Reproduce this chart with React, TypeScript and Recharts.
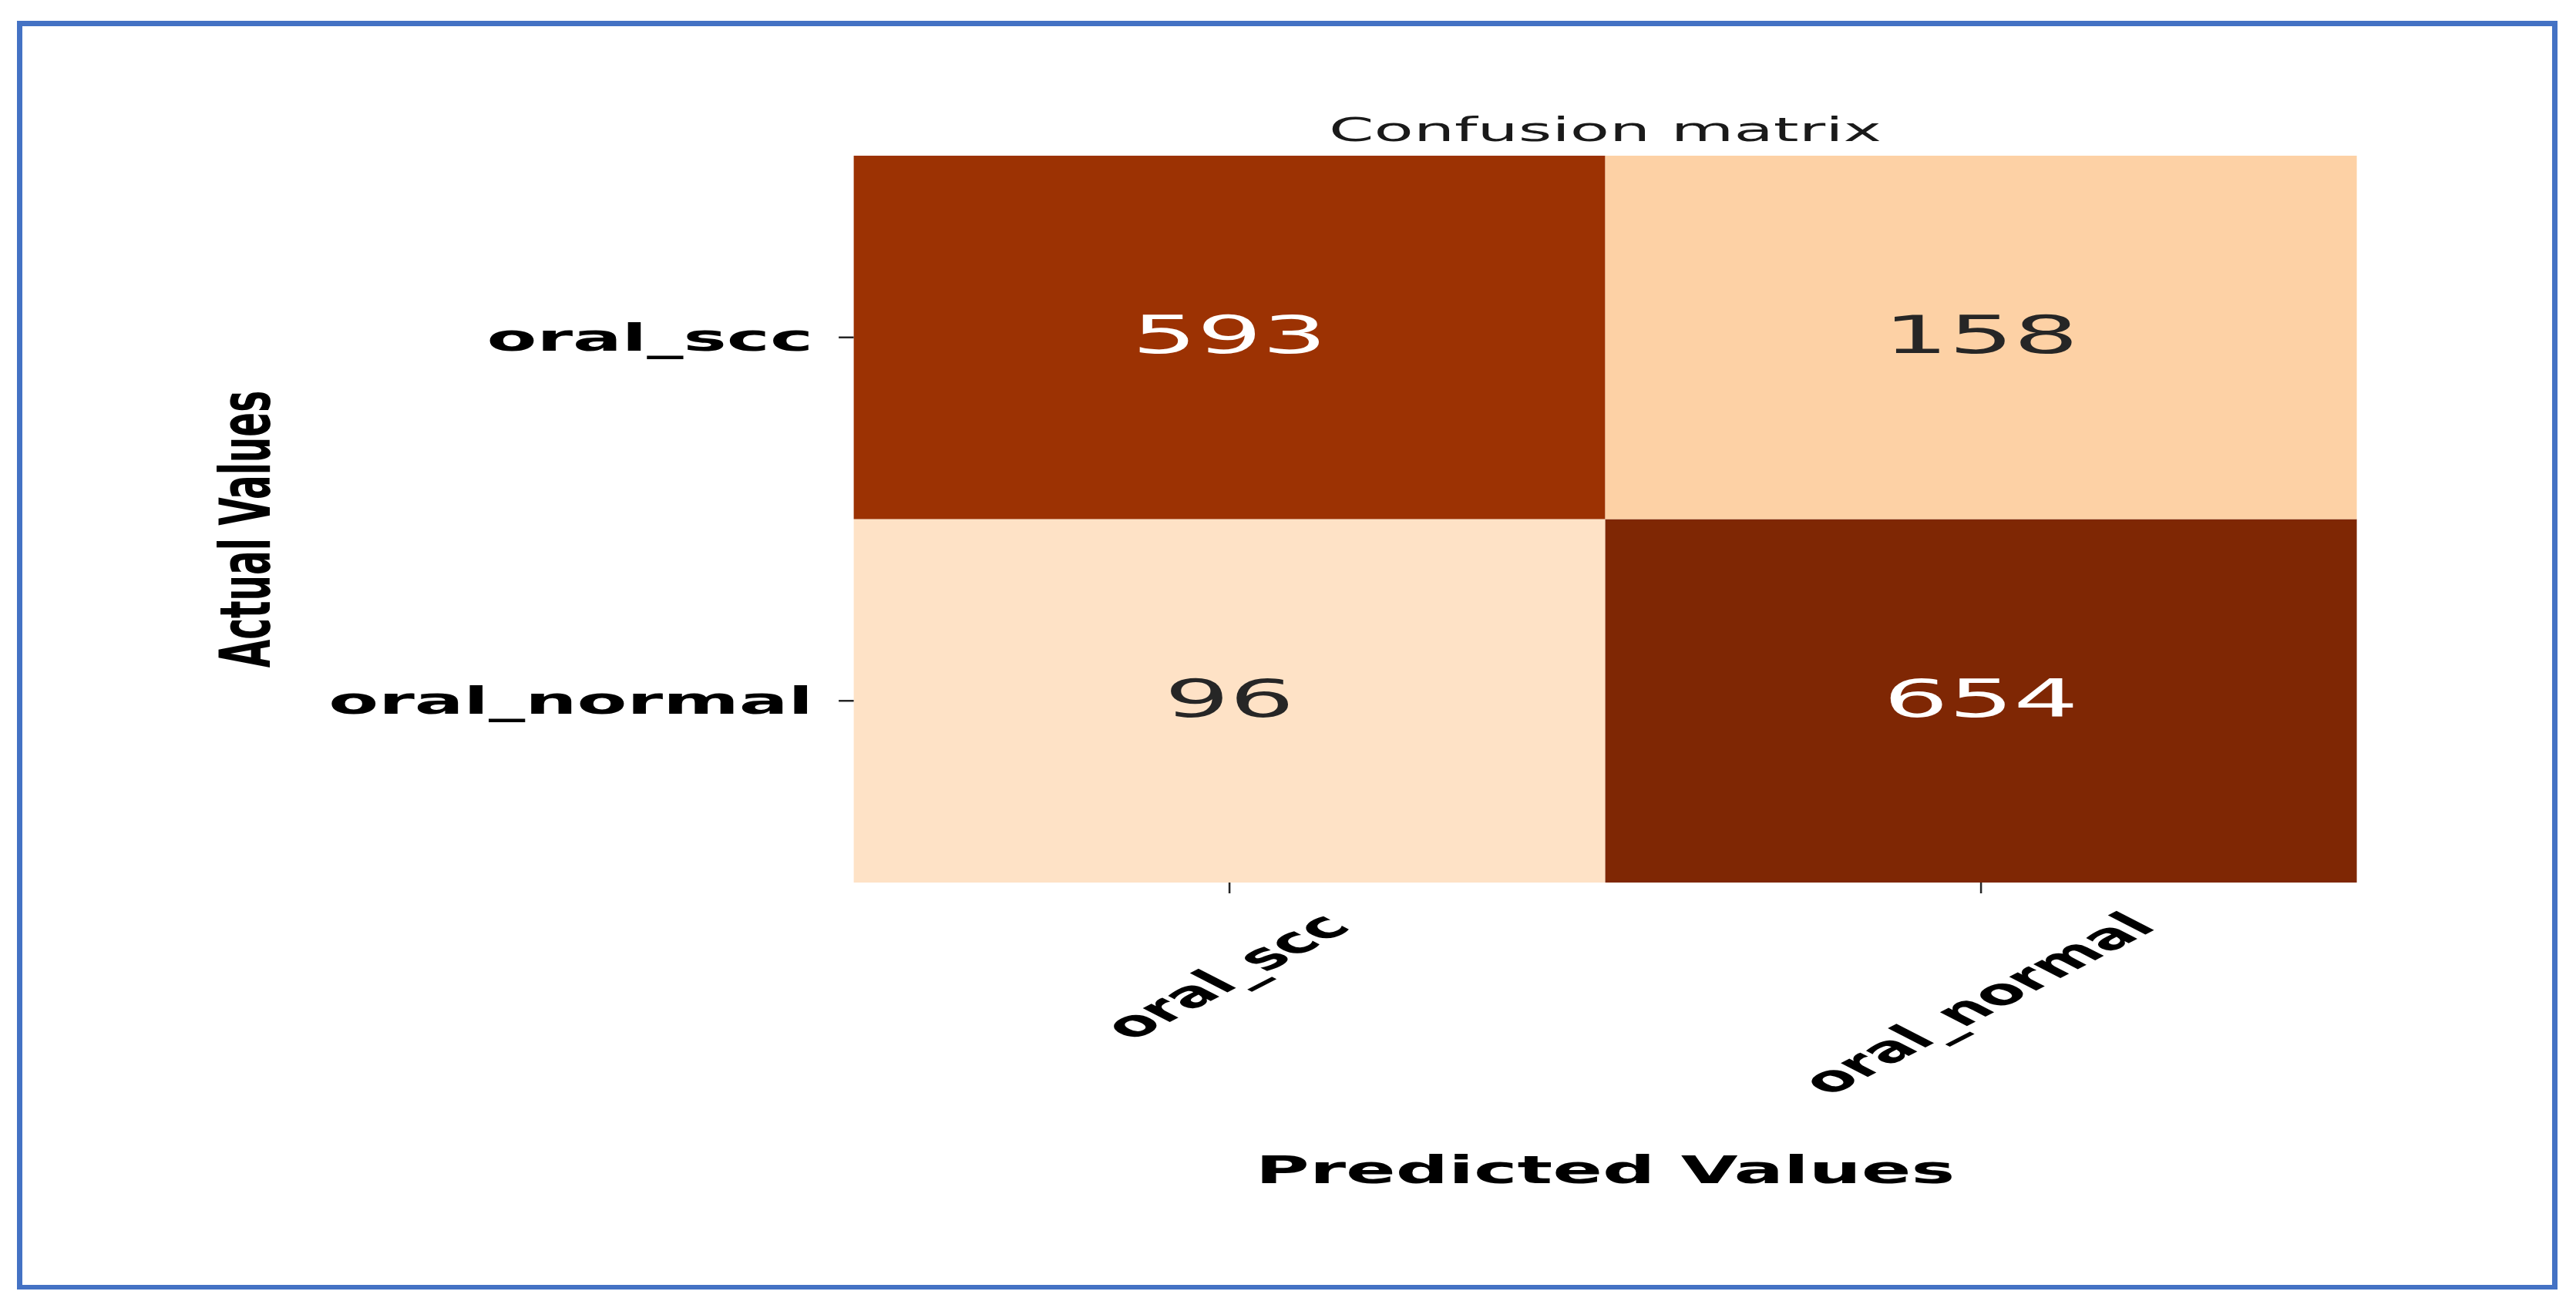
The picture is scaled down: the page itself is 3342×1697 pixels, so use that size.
import React from "react";
import { BarChart, Bar, XAxis, YAxis, Cell, LabelList, Label } from "recharts";

// confusion matrix, rows = actual class, columns = predicted class
const predictedLabels = ["oral_scc", "oral_normal"];
const actualLabels = ["oral_scc", "oral_normal"];
const actualSccCounts = [593, 158];
const actualNormalCounts = [96, 654];
const rowTicks = [1.5, 0.5];

// matplotlib "Oranges" colormap anchors
const ORANGES = [
  "#fff5eb", "#fee6ce", "#fdd0a2", "#fdae6b", "#fd8d3c",
  "#f16913", "#d94801", "#a63603", "#7f2704",
];

const vmax = Math.max(...actualSccCounts, ...actualNormalCounts);

const chartData = predictedLabels.map((p, i) => ({
  predicted: p,
  scc: actualSccCounts[i],
  normal: actualNormalCounts[i],
  sccBand: 1,
  normalBand: 1,
}));

// the source figure is stretched horizontally
const SX = 1.95;
const W = 3342;
const H = 1697;
const CW = W / SX;
const FONT = "DejaVu Sans";

function hexToRgb(h: string) {
  const n = parseInt(h.slice(1), 16);
  return [(n >> 16) & 255, (n >> 8) & 255, n & 255];
}

function orangesColor(t: number) {
  const c = Math.max(0, Math.min(1, t)) * (ORANGES.length - 1);
  const i = Math.min(Math.floor(c), ORANGES.length - 2);
  const f = c - i;
  const a = hexToRgb(ORANGES[i]);
  const b = hexToRgb(ORANGES[i + 1]);
  const rgb = a.map((v, k) => Math.round(v + (b[k] - v) * f));
  return `rgb(${rgb[0]},${rgb[1]},${rgb[2]})`;
}

// rough DejaVu Sans Bold advance widths (em)
const BOLD_W: Record<string, number> = {
  o: 0.687, r: 0.493, a: 0.675, l: 0.343, _: 0.5, s: 0.595, c: 0.593, n: 0.712, m: 1.042,
};
const textWidth = (s: string) => s.split("").reduce((acc, ch) => acc + (BOLD_W[ch] ?? 0.65), 0);

const renderCount = (props: any) => {
  const { x, y, width, height, value } = props;
  const fs = 68;
  const cx = Number(x) + Number(width) / 2;
  const cy = Number(y) + Number(height) / 2;
  const dark = Number(value) / vmax > 0.5;
  return (
    <text
      x={cx}
      y={cy + 0.364 * fs - 4}
      textAnchor="middle"
      fontFamily={FONT}
      fontSize={fs}
      fill={dark ? "#ffffff" : "#262626"}
    >
      {value}
    </text>
  );
};

function PredTick(props: any) {
  const { x, y, payload } = props;
  const fs = 46.5;
  const w = textWidth(String(payload.value)) * fs;
  const h = fs;
  const cy = y + (w + h) / (2 * Math.SQRT2);
  return (
    <text
      x={x}
      y={cy + 0.26 * fs}
      textAnchor="middle"
      transform={`rotate(-45, ${x}, ${cy})`}
      fontFamily={FONT}
      fontWeight="bold"
      fontSize={fs}
      fill="#000"
    >
      {payload.value}
    </text>
  );
}

export default function App() {
  return (
    <div
      style={{
        position: "absolute",
        left: 0,
        top: 0,
        width: W,
        height: H,
        background: "#fff",
        overflow: "hidden",
      }}
    >
      <div
        style={{
          position: "absolute",
          left: 22,
          top: 27,
          width: 3296,
          height: 1646,
          border: "7px solid #4472c4",
          borderBottomWidth: 6,
          boxSizing: "border-box",
        }}
      />
      <div
        style={{
          position: "absolute",
          left: 0,
          top: 0,
          width: CW,
          height: H,
          transform: `scaleX(${SX})`,
          transformOrigin: "0 0",
        }}
      >
        <div
          style={{
            position: "absolute",
            left: 568,
            top: 147,
            width: 1000,
            textAlign: "center",
            fontFamily: FONT,
            fontSize: 43,
            lineHeight: 1,
            color: "#1a1a1a",
          }}
        >
          Confusion matrix
        </div>
        <BarChart
          width={CW}
          height={H}
          data={chartData}
          margin={{ top: 202, right: CW - 568 - 1000, bottom: 152, left: 0 }}
          barCategoryGap={0}
          barGap={0}
        >
          <XAxis
            dataKey="predicted"
            type="category"
            height={400}
            axisLine={false}
            tickSize={14}
            tickMargin={20}
            tickLine={{ stroke: "#262626", strokeWidth: 1.3 }}
            tick={<PredTick />}
            interval={0}
          >
            <Label
              content={({ viewBox }: any) => (
                <text
                  x={viewBox.x + viewBox.width / 2}
                  y={viewBox.y + 390}
                  textAnchor="middle"
                  fontFamily={FONT}
                  fontWeight="bold"
                  fontSize={49}
                  fill="#000"
                >
                  Predicted Values
                </text>
              )}
            />
          </XAxis>
          <YAxis
            type="number"
            domain={[0, 2]}
            ticks={rowTicks}
            width={568}
            axisLine={false}
            tickSize={10}
            tickMargin={17}
            tickLine={{ stroke: "#262626", strokeWidth: 2.5 }}
            tickFormatter={(v: number) => (v > 1 ? actualLabels[0] : actualLabels[1])}
            tick={{ fill: "#000", fontSize: 48.5, fontWeight: "bold", fontFamily: FONT }}
          >
            <Label
              content={({ viewBox }: any) => {
                const bx = 179.5;
                const cy = viewBox.y + viewBox.height / 2 + 13;
                return (
                  <text
                    x={bx}
                    y={cy}
                    textAnchor="middle"
                    transform={`rotate(-90, ${bx}, ${cy})`}
                    fontFamily={FONT}
                    fontWeight="bold"
                    fontSize={47}
                    fill="#000"
                  >
                    Actual Values
                  </text>
                );
              }}
            />
          </YAxis>
          <Bar dataKey="normalBand" stackId="cm" isAnimationActive={false}>
            {chartData.map((d, i) => (
              <Cell key={`n-${i}`} fill={orangesColor(d.normal / vmax)} />
            ))}
            <LabelList dataKey="normal" content={renderCount} />
          </Bar>
          <Bar dataKey="sccBand" stackId="cm" isAnimationActive={false}>
            {chartData.map((d, i) => (
              <Cell key={`s-${i}`} fill={orangesColor(d.scc / vmax)} />
            ))}
            <LabelList dataKey="scc" content={renderCount} />
          </Bar>
        </BarChart>
      </div>
    </div>
  );
}
